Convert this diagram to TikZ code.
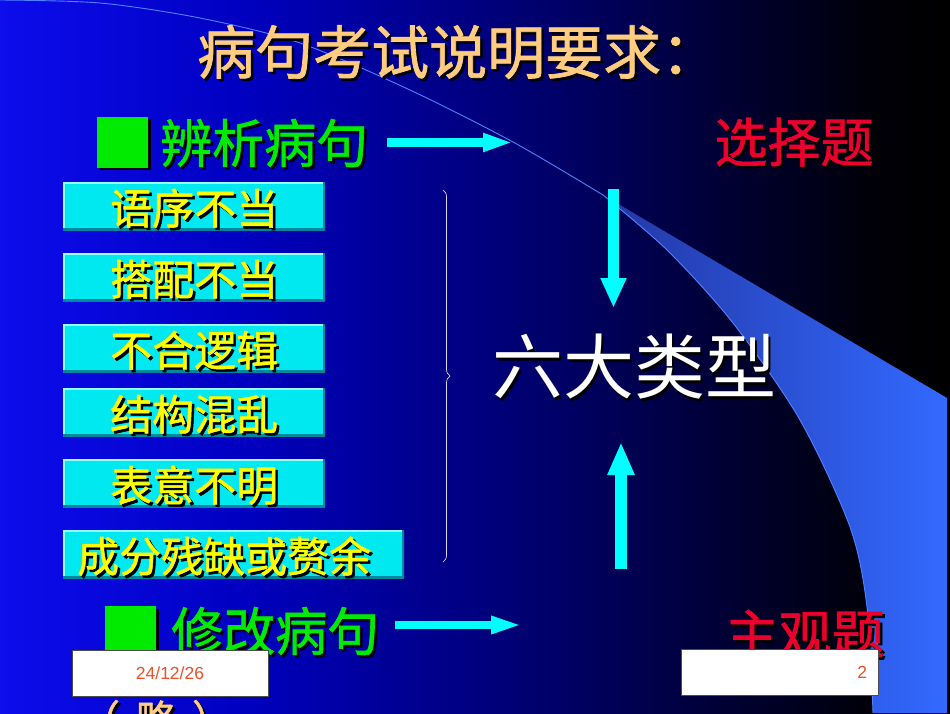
\documentclass[tikz,border=0pt]{standalone}
\usepackage{fontspec}
\setmainfont{Liberation Sans}
\newfontfamily\hei{Noto Sans CJK SC}
\newfontfamily\heib[FakeBold=1.2]{Noto Sans CJK SC}
\usepackage{tikz}
\usetikzlibrary{arrows.meta,decorations.pathreplacing,shadows}

\definecolor{titleorange}{RGB}{255,204,128}
\definecolor{leafgreen}{RGB}{0,235,0}
\definecolor{qred}{RGB}{235,0,45}
\definecolor{arrowcyan}{RGB}{0,255,255}
\definecolor{boxcyan}{RGB}{0,232,240}
\definecolor{boxlight}{RGB}{150,255,255}
\definecolor{boxdark}{RGB}{0,135,160}
\definecolor{wordyellow}{RGB}{255,255,0}
\definecolor{arcblue}{RGB}{80,130,255}
\definecolor{wedgeL}{RGB}{35,55,165}
\definecolor{wedgeR}{RGB}{50,105,255}
\definecolor{footred}{RGB}{235,80,40}
\definecolor{bracegray}{RGB}{215,215,235}

% the path is mapped onto 25bp--75bp
\pgfdeclarehorizontalshading{slidebg}{100bp}{rgb(0bp)=(0.05,0.05,0.93); rgb(25bp)=(0.05,0.05,0.93); rgb(37.5bp)=(0,0,0.76); rgb(50bp)=(0,0,0.5); rgb(62.5bp)=(0,0,0.22); rgb(71bp)=(0,0,0.03); rgb(75bp)=(0,0,0); rgb(100bp)=(0,0,0)}

% text with a dark shadow behind it
\newcommand{\shtext}[4][]{%
  \node[#1, text=black, xshift=2.5pt, yshift=-2.5pt] at (#3) {#4};
  \node[#1] (#2) at (#3) {#4};}

\begin{document}
\begin{tikzpicture}[x=1pt, y=-1pt,
    every node/.style={inner sep=0pt},
    title/.style={font=\heib\fontsize{58}{60}\selectfont, text=titleorange, anchor=west},
    head/.style={font=\heib\fontsize{52}{56}\selectfont, text=leafgreen, anchor=west},
    exam/.style={font=\heib\fontsize{53}{56}\selectfont, text=qred},
    word/.style={font=\heib\fontsize{42}{46}\selectfont, text=wordyellow, yshift=-2pt},
    bigword/.style={font=\hei\fontsize{71}{76}\selectfont, text=white},
    note/.style={font=\heib\fontsize{40}{44}\selectfont, text=titleorange},
    greensq/.style={rectangle, fill=leafgreen, minimum size=51pt,
      drop shadow={shadow xshift=2.5pt, shadow yshift=-2.5pt, fill=black, opacity=1}},
    errbox/.style={rectangle, fill=boxcyan, minimum width=262pt, minimum height=48pt,
      anchor=north west,
      path picture={
        \draw[line width=4pt, boxlight] (path picture bounding box.south west)
          -- (path picture bounding box.north west) -- (path picture bounding box.north east);
        \draw[line width=5pt, boxdark] (path picture bounding box.north east)
          -- (path picture bounding box.south east) -- (path picture bounding box.south west);}},
    blockarrow/.style={draw=arrowcyan, line width=9pt, -{Triangle[length=30pt, width=17pt]}},
    footbox/.style={rectangle, draw=black!70, line width=0.8pt, fill=white,
      minimum width=196pt, minimum height=46pt, text=footred,
      font=\fontsize{17.5}{20}\selectfont}]

\clip (0,0) rectangle (950,713);
% background and the swoosh on the right
\shade[shading=slidebg] (0,0) rectangle (950,713);
\shade[left color=wedgeL, right color=wedgeR] (947,398) -- plot[smooth] coordinates {(603,195) (667,250)
  (733,323) (800,420) (850,527) (867,607) (873,713)} -- (947,713) -- cycle;
\draw[arcblue, line width=0.9pt] plot[smooth] coordinates {(0,0) (100,3) (200,18) (300,43)
  (410,90) (513,142) (603,195)};
\draw[arcblue, line width=0.9pt] plot[smooth] coordinates {(603,195) (667,250) (733,323)
  (800,420) (850,527) (867,607) (873,713)};

\shtext[title]{title}{197,52}{病句考试说明要求：}

% first row
\node[greensq] (sq1) at (122.5,142) {};
\shtext[head]{bianxi}{160,143}{辨析病句}
\coordinate (a1s) at (387,142.5);
\coordinate (a1e) at (513,142.5);
\draw[blockarrow] (a1s) -- (a1e);
\shtext[exam]{xuanze}{794,142}{选择题}

% the six kinds
\node[errbox] (b1) at (63,182) {};
\node[errbox] (b2) at (63,253) {};
\node[errbox] (b3) at (63,324) {};
\node[errbox] (b4) at (63,388) {};
\node[errbox] (b5) at (63,459) {};
\node[errbox, minimum width=341pt] (b6) at (63,530) {};
\shtext[word]{t1}{b1.center}{语序不当}
\shtext[word]{t2}{b2.center}{搭配不当}
\shtext[word]{t3}{b3.center}{不合逻辑}
\shtext[word]{t4}{b4.center}{结构混乱}
\shtext[word]{t5}{b5.center}{表意不明}
\shtext[word, anchor=west, xshift=14pt]{t6}{b6.west}{成分残缺或赘余}
\draw[bracegray, line width=0.7pt, decorate, decoration={brace, amplitude=7pt}] (443,190) -- (443,562);

% middle
\coordinate (d1s) at (613.5,189);
\coordinate (d1e) at (613.5,308);
\draw[blockarrow, line width=11pt, -{Triangle[length=30pt, width=24pt]}] (d1s) -- (d1e);
\shtext[bigword]{six}{634,367}{六大类型}
\coordinate (u1s) at (621,569);
\coordinate (u1e) at (621,442);
\draw[blockarrow, line width=12pt, -{Triangle[length=33pt, width=25pt]}] (u1s) -- (u1e);

% second row
\node[greensq] (sq2) at (130.5,631.5) {};
\shtext[head]{xiugai}{171,631}{修改病句}
\coordinate (a2s) at (395,625);
\coordinate (a2e) at (523,625);
\draw[blockarrow, line width=8pt, -{Triangle[length=32pt, width=16pt]}] (a2s) -- (a2e);
\shtext[exam]{zhuguan}{805,634}{主观题}
\shtext[note]{lue}{156,719}{（\hspace{16pt}略\hspace{16pt}）}

% footer
\node[footbox] (date) at (170,673) {24/12/26};
\node[footbox, text width=175pt, inner xsep=11pt, align=right] (page) at (779.5,672.5) {2};
\end{tikzpicture}
\end{document}
